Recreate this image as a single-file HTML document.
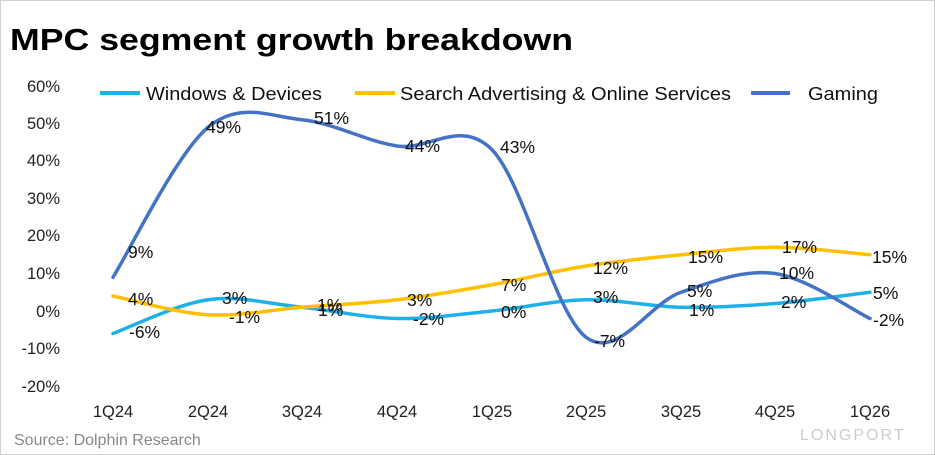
<!DOCTYPE html>
<html><head><meta charset="utf-8">
<style>
html,body{margin:0;padding:0;background:#fff;}
body{width:935px;height:455px;overflow:hidden;position:relative;font-family:"Liberation Sans",sans-serif;}
</style></head>
<body>
<svg id="s" width="935" height="455" xmlns="http://www.w3.org/2000/svg" style="position:absolute;left:0;top:0">
<rect x="0.5" y="0.5" width="934" height="454" fill="#fff" stroke="#d0d0d0"/>
<text x="10" y="50" font-size="31" font-weight="bold" fill="#000" font-family="Liberation Sans, sans-serif" textLength="563" lengthAdjust="spacingAndGlyphs">MPC segment growth breakdown</text>
<g font-size="16.5" fill="#222" text-anchor="end" font-family="Liberation Sans, sans-serif">
<text x="60" y="92">60%</text><text x="60" y="129">50%</text><text x="60" y="166">40%</text>
<text x="60" y="204">30%</text><text x="60" y="241">20%</text><text x="60" y="279">10%</text>
<text x="60" y="317">0%</text><text x="60" y="354">-10%</text><text x="60" y="392">-20%</text>
</g>
<g font-size="16.5" fill="#222" text-anchor="middle" font-family="Liberation Sans, sans-serif">
<text x="113" y="417">1Q24</text><text x="208" y="417">2Q24</text><text x="302" y="417">3Q24</text>
<text x="397" y="417">4Q24</text><text x="492" y="417">1Q25</text><text x="586" y="417">2Q25</text>
<text x="681" y="417">3Q25</text><text x="775" y="417">4Q25</text><text x="870" y="417">1Q26</text>
</g>
<g font-size="18.5" fill="#111" font-family="Liberation Sans, sans-serif">
<line x1="100" y1="93" x2="140" y2="93" stroke="#1EB0E8" stroke-width="4"/><text x="146" y="100" textLength="176" lengthAdjust="spacingAndGlyphs">Windows &amp; Devices</text>
<line x1="355" y1="93" x2="395" y2="93" stroke="#FFC000" stroke-width="4"/><text x="400" y="100" textLength="331" lengthAdjust="spacingAndGlyphs">Search Advertising &amp; Online Services</text>
<line x1="751" y1="93" x2="790" y2="93" stroke="#4472C4" stroke-width="4"/><text x="808" y="100" textLength="70" lengthAdjust="spacingAndGlyphs">Gaming</text>
</g>
<g id="lines"></g>
<g font-size="17.5" fill="#111" font-family="Liberation Sans, sans-serif">
<text x="128" y="258">9%</text><text x="206" y="133">49%</text><text x="314" y="124">51%</text><text x="405" y="152">44%</text><text x="500" y="153">43%</text><text x="594" y="347">-7%</text><text x="687" y="297">5%</text><text x="779" y="279">10%</text><text x="873" y="326">-2%</text>
<text x="129" y="338">-6%</text><text x="222" y="304">3%</text><text x="318" y="316">1%</text><text x="413" y="325">-2%</text><text x="501" y="318">0%</text><text x="593" y="303">3%</text><text x="689" y="316">1%</text><text x="781" y="308">2%</text><text x="873" y="299">5%</text>
<text x="128" y="305">4%</text><text x="229" y="323">-1%</text><text x="317" y="311">1%</text><text x="407" y="306">3%</text><text x="501" y="291">7%</text><text x="593" y="274">12%</text><text x="688" y="263">15%</text><text x="782" y="253">17%</text><text x="872" y="263">15%</text>
</g>
<text x="14" y="445" font-size="16" fill="#888" font-family="Liberation Sans, sans-serif">Source: Dolphin Research</text>
<text x="800" y="440" font-size="16" fill="#ccc" font-family="Liberation Sans, sans-serif" letter-spacing="2">LONGPORT</text>
</svg>
<script>
var xs=[113,208,302,397,492,586,681,775,870];
function y(v){return 311-v*3.75;}
function path(vals){
 var p=vals.map(function(v,i){return [xs[i],y(v)];});
 var d="M"+p[0][0]+","+p[0][1];
 for(var i=0;i<p.length-1;i++){
  var p0=p[i-1]||p[i],p1=p[i],p2=p[i+1],p3=p[i+2]||p[i+1];
  var c1=[p1[0]+(p2[0]-p0[0])/6,p1[1]+(p2[1]-p0[1])/6];
  var c2=[p2[0]-(p3[0]-p1[0])/6,p2[1]-(p3[1]-p1[1])/6];
  d+=" C"+c1+" "+c2+" "+p2;
 }
 return d;
}
var g=document.getElementById("lines");
[[[-6,3,1,-2,0,3,1,2,5],"#1EB0E8"],[[4,-1,1,3,7,12,15,17,15],"#FFC000"],[[9,49,51,44,43,-7,5,10,-2],"#4472C4"]].forEach(function(s){
 var e=document.createElementNS("http://www.w3.org/2000/svg","path");
 e.setAttribute("d",path(s[0]));e.setAttribute("fill","none");e.setAttribute("stroke",s[1]);e.setAttribute("stroke-width","3.5");e.setAttribute("stroke-linecap","round");
 g.appendChild(e);
});
</script>
</body></html>
